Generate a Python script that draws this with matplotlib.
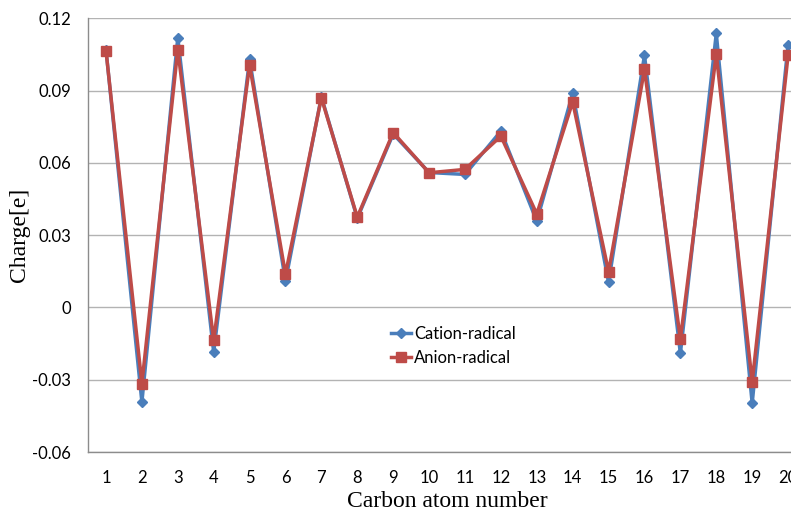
import matplotlib
matplotlib.use("Agg")
import matplotlib.pyplot as plt

# Mulliken charges per carbon atom
atoms = list(range(1, 21))
cation = [0.107, -0.0393, 0.112, -0.0186, 0.103, 0.0109, 0.0875, 0.037, 0.072, 0.056,
          0.0552, 0.0732, 0.0358, 0.0889, 0.0104, 0.1047, -0.0191, 0.1137, -0.0398, 0.1091]
anion = [0.1066, -0.0316, 0.107, -0.0137, 0.1006, 0.0138, 0.087, 0.0375, 0.0726, 0.0559,
         0.0573, 0.0711, 0.0388, 0.0853, 0.0148, 0.0988, -0.0132, 0.1052, -0.031, 0.1046]
yticks = [-0.06, -0.03, 0, 0.03, 0.06, 0.09, 0.12]
ytick_labels = ["-0.06", "-0.03", "0", "0.03", "0.06", "0.09", "0.12"]

fig = plt.figure(figsize=(7.91, 5.13), dpi=100)
ax = fig.add_axes([0.1113, 0.1189, 0.9077, 0.8454])

ax.plot(atoms, cation, color="#4a7ebb", lw=2.5, marker="D", ms=5,
        label="Cation-radical", zorder=3)
ax.plot(atoms, anion, color="#be4b48", lw=2.5, marker="s", ms=7,
        label="Anion-radical", zorder=4)

ax.set_xlim(0.5, 20.5)
ax.set_ylim(-0.06, 0.12)
ax.set_xticks(atoms)
ax.set_xticklabels([str(a) for a in atoms], family="Lato", fontsize=12)
ax.set_yticks(yticks)
ax.set_yticklabels(ytick_labels, family="Lato", fontsize=12)
ax.tick_params(axis="x", length=0, pad=13)
ax.tick_params(axis="y", length=0, pad=12)

ax.grid(axis="y", color="#b3b3b3", lw=1)
ax.set_axisbelow(True)
for s in ["top", "right"]:
    ax.spines[s].set_visible(False)
for s in ["left", "bottom"]:
    ax.spines[s].set_color("#8c8c8c")
    ax.spines[s].set_linewidth(1)

ax.set_xlabel("Carbon atom number", family="Liberation Serif", fontsize=17)
ax.set_ylabel("Charge[e]", family="Liberation Serif", fontsize=17)
ax.xaxis.set_label_coords(0.5, -0.09)
ax.yaxis.set_label_coords(-0.081, 0.5)

ax.legend(loc="upper left", bbox_to_anchor=(0.401, 0.325), frameon=False,
          prop={"family": "Lato", "size": 12}, handlelength=1.2, handletextpad=0.2,
          labelspacing=0.45)

fig.savefig("out.png", dpi=100)
